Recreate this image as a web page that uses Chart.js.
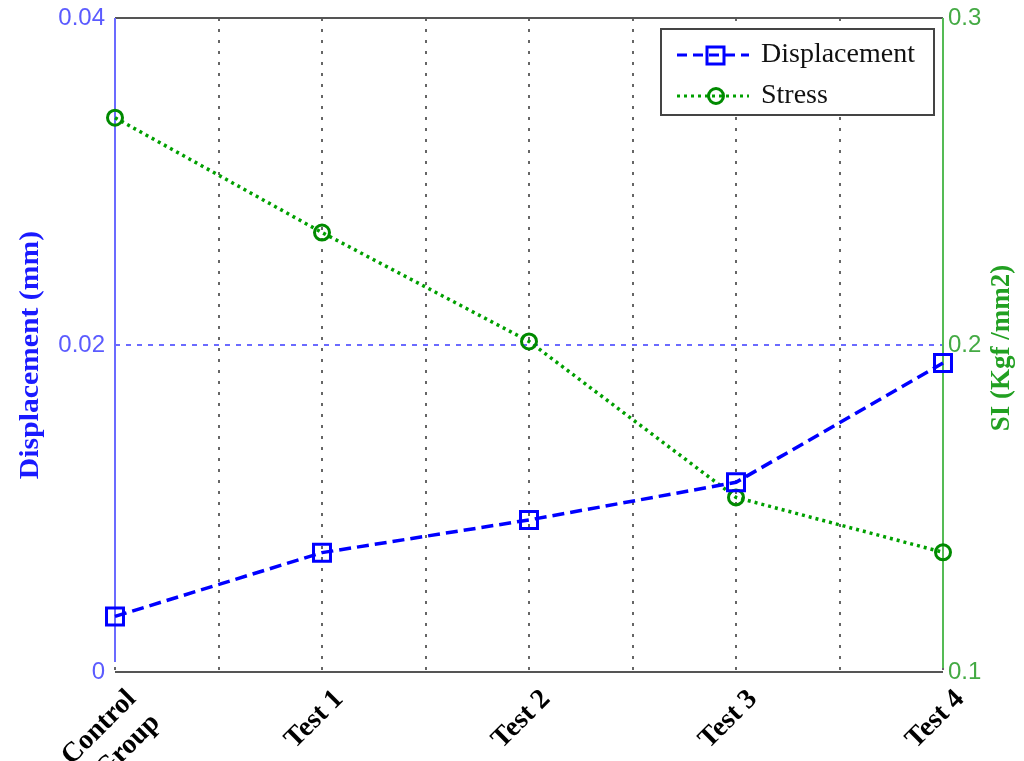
<!DOCTYPE html>
<html><head><meta charset="utf-8">
<script src="https://cdn.jsdelivr.net/npm/chart.js@4"></script>
<style>html,body{margin:0;padding:0;background:#fff}#wrap{width:1024px;height:761px;position:relative}</style>
</head><body><div id="wrap"><canvas id="c"></canvas></div>
<script>
const categories = [['Control', 'Group'], 'Test 1', 'Test 2', 'Test 3', 'Test 4'];
const categoryPositions = [0, 1, 2, 3, 4];
const displacement = [0.0034, 0.0073, 0.0093, 0.0116, 0.0189];
const stress = [0.2695, 0.2344, 0.2011, 0.1534, 0.1366];
const leftTicks = [0, 0.02, 0.04];
const rightTicks = [0.1, 0.2, 0.3];
const seriesNames = ['Displacement', 'Stress'];
const leftTitle = 'Displacement (mm)';
const rightTitle = 'SI (Kgf /mm2)';

const BLUE = '#0000ff', GREEN = '#00a000', GREEN_MK = '#008a00';

const framePlugin = {
  id: 'frame',
  beforeDatasetsDraw(chart) {
    const {ctx, chartArea: a} = chart;
    ctx.save();
    ctx.setLineDash([]);
    ctx.lineWidth = 2;
    ctx.strokeStyle = '#555';
    ctx.beginPath();
    ctx.moveTo(a.left, a.top); ctx.lineTo(a.right, a.top);
    ctx.moveTo(a.left, a.bottom); ctx.lineTo(a.right, a.bottom);
    ctx.stroke();
    ctx.strokeStyle = '#6b6bff';
    ctx.beginPath(); ctx.moveTo(a.left, a.top); ctx.lineTo(a.left, a.bottom - 10); ctx.stroke();
    ctx.strokeStyle = '#55bb55';
    ctx.beginPath(); ctx.moveTo(a.right, a.top); ctx.lineTo(a.right, a.bottom - 4); ctx.stroke();
    ctx.restore();
  },
  afterDraw(chart) {
    const {ctx, chartArea: a} = chart;
    ctx.save();
    ctx.font = 'bold 27px "Liberation Serif", serif';
    ctx.textAlign = 'center'; ctx.textBaseline = 'middle';
    ctx.fillStyle = '#1a1aff';
    ctx.save(); ctx.translate(31, 355); ctx.rotate(-Math.PI / 2); ctx.scale(1.1, 1); ctx.fillText(leftTitle, 0, 0); ctx.restore();
    ctx.fillStyle = '#22a022';
    ctx.save(); ctx.translate(1002, 348); ctx.rotate(-Math.PI / 2); ctx.fillText(rightTitle, 0, 0); ctx.restore();
    // legend
    const bx = a.right - 282, by = a.top + 11, bw = 273, bh = 86;
    ctx.fillStyle = '#fff';
    ctx.strokeStyle = '#444'; ctx.lineWidth = 2;
    ctx.beginPath(); ctx.rect(bx, by, bw, bh); ctx.fill(); ctx.stroke();
    const rows = [by + 26, by + 67];
    ctx.lineWidth = 3; ctx.strokeStyle = BLUE; ctx.setLineDash([10, 6]);
    ctx.beginPath(); ctx.moveTo(bx + 16, rows[0]); ctx.lineTo(bx + 88, rows[0]); ctx.stroke();
    ctx.setLineDash([]); ctx.strokeRect(bx + 46, rows[0] - 8, 17, 17);
    ctx.strokeStyle = GREEN; ctx.setLineDash([3, 4]);
    ctx.beginPath(); ctx.moveTo(bx + 16, rows[1]); ctx.lineTo(bx + 88, rows[1]); ctx.stroke();
    ctx.setLineDash([]); ctx.strokeStyle = GREEN_MK; ctx.lineWidth = 3;
    ctx.beginPath(); ctx.arc(bx + 55, rows[1], 7.5, 0, Math.PI * 2); ctx.stroke();
    ctx.fillStyle = '#111'; ctx.textAlign = 'left';
    ctx.font = '28px "Liberation Serif", serif';
    ctx.fillText(seriesNames[0], bx + 100, rows[0]);
    ctx.fillText(seriesNames[1], bx + 100, rows[1]);
    ctx.restore();
  }
};

new Chart(document.getElementById('c'), {
  type: 'line',
  data: {
    datasets: [
      {
        label: seriesNames[0],
        data: categoryPositions.map((x, i) => ({x, y: displacement[i]})),
        yAxisID: 'yL', clip: false,
        borderColor: BLUE, borderWidth: 3.5, borderDash: [12, 6],
        pointStyle: 'rect', pointRadius: 12, pointBorderWidth: 3,
        pointBorderColor: BLUE, pointBackgroundColor: 'rgba(0,0,0,0)',
        fill: false, tension: 0
      },
      {
        label: seriesNames[1],
        data: categoryPositions.map((x, i) => ({x, y: stress[i]})),
        yAxisID: 'yR', clip: false,
        borderColor: GREEN, borderWidth: 3.5, borderDash: [3, 4],
        pointStyle: 'circle', pointRadius: 7.5, pointBorderWidth: 3,
        pointBorderColor: GREEN_MK, pointBackgroundColor: 'rgba(0,0,0,0)',
        fill: false, tension: 0
      }
    ]
  },
  options: {
    responsive: true, maintainAspectRatio: false, animation: false,
    layout: {padding: {top: 18, left: 0, right: 0, bottom: 0}},
    plugins: {legend: {display: false}, tooltip: {enabled: false}},
    scales: {
      x: {
        type: 'linear', min: 0, max: 4,
        afterFit: s => { s.height = 89; s.paddingTop = 0; s.paddingBottom = 0; },
        ticks: {
          stepSize: 0.5, autoSkip: false, minRotation: 45, maxRotation: 45,
          color: '#000', padding: 11, labelOffset: 17,
          font: {family: '"Liberation Serif", serif', weight: 'bold', size: 28},
          callback: v => Number.isInteger(v) ? categories[v] : ''
        },
        grid: {color: '#666', lineWidth: 2, drawTicks: false},
        border: {display: false, dash: [3, 8]}
      },
      yL: {
        position: 'left', min: 0, max: 0.04,
        afterFit: s => { s.width = 115; s.paddingTop = 0; s.paddingBottom = 0; },
        afterBuildTicks: s => { s.ticks = leftTicks.map(v => ({value: v})); },
        ticks: {color: '#5b5bff', padding: 10, font: {family: '"Liberation Sans", sans-serif', size: 24}},
        grid: {
          color: c => (c.tick && c.tick.value === 0.02) ? '#6b6bff' : 'rgba(0,0,0,0)',
          lineWidth: 2, drawTicks: false
        },
        border: {display: false, dash: [5, 6]}
      },
      yR: {
        position: 'right', min: 0.1, max: 0.3,
        afterFit: s => { s.width = 81; s.paddingTop = 0; s.paddingBottom = 0; },
        afterBuildTicks: s => { s.ticks = rightTicks.map(v => ({value: v})); },
        ticks: {color: '#44aa44', padding: 5, font: {family: '"Liberation Sans", sans-serif', size: 24}},
        grid: {display: false, drawTicks: false},
        border: {display: false}
      }
    }
  },
  plugins: [framePlugin]
});
</script>
</body></html>
